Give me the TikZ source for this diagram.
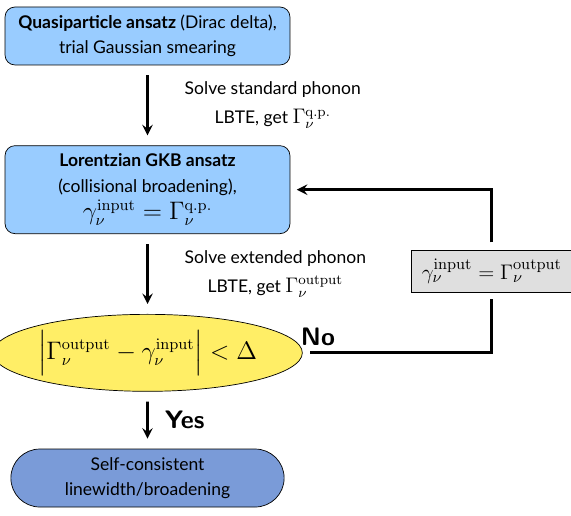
\documentclass[tikz,border=0pt,12pt]{standalone}
\usepackage{amsmath}
\usepackage[no-math]{fontspec}
\setmainfont{Lato}[Scale=0.83]
\usetikzlibrary{positioning, calc, shapes.geometric, shapes.misc, arrows}
\definecolor{ansatzblue}{RGB}{153,204,255}
\definecolor{testyellow}{RGB}{255,238,102}
\definecolor{resultblue}{RGB}{122,155,216}
\newcommand{\bigmath}{\fontsize{13.5}{16}\selectfont}
\tikzset{>=stealth, node distance=1.6cm,
    ansatz/.style={draw, rounded corners=0.2cm, fill=ansatzblue, minimum width=5.7cm, align=center},
    test/.style={draw, ellipse, fill=testyellow, minimum width=5.7cm, minimum height=1.54cm, inner sep=0pt},
    result/.style={draw, rounded rectangle, fill=resultblue, minimum width=5.7cm, minimum height=1.16cm, align=center},
    update/.style={draw, fill=gray!25, minimum width=3.2cm, minimum height=0.84cm, inner sep=2pt, font=\fontsize{12.5}{15}\selectfont},
    flow/.style={->, line width=1.6pt, shorten >=0.2cm, shorten <=0.2cm},
    loopback/.style={line width=1.6pt, shorten >=0.13cm, shorten <=0.15cm},
    answer/.style={font=\large\sffamily\bfseries},
}

\begin{document}
\begin{tikzpicture}[x=0.02cm, y=-0.02cm]
        \useasboundingbox (0,0) rectangle (571,516);
        \node[ansatz, minimum height=1.16cm] (qp) at (147.5,36) {\textbf{Quasiparticle ansatz} (Dirac delta),\\ trial Gaussian smearing};
        \node[ansatz, minimum height=1.76cm, below=of qp] (gkb) {\textbf{Lorentzian GKB ansatz}\\ (collisional broadening),\\[1pt] \bigmath $\gamma_\nu^{\mathrm{input}}=\Gamma_\nu^{\mathrm{q.p.}}$};
        \node[test, below=of gkb] (conv) {\bigmath $\Bigl|\Gamma_\nu^{\mathrm{output}}-\gamma_\nu^{\mathrm{input}}\Bigr|<\Delta$};
        \node[result, below=1.14cm of conv] (lw) {Self-consistent\\ linewidth/broadening};
        \node[update, right=2.3cm] (upd) at ($(gkb.east)!0.5!(conv.east)$) {$\gamma_\nu^{\mathrm{input}}=\Gamma_\nu^{\mathrm{output}}$};

        \draw[flow] (qp) -- node[right=0.6cm, align=center] {Solve standard phonon\\[2pt] LBTE, get $\Gamma_\nu^{\mathrm{q.p.}}$} (gkb);
        \draw[flow] (gkb) -- node[right=0.6cm, align=center] {Solve extended phonon\\[2pt] LBTE, get $\Gamma_\nu^{\mathrm{output}}$} (conv);
        \draw[flow] (conv) -- node[answer, right=0.2cm] {Yes} (lw);
        \draw[loopback] (conv.east) -| node[answer, pos=0, anchor=south west, xshift=-0.18cm] {No} (upd.south);
        \draw[loopback, ->] (upd.north) |- (gkb.east);
\end{tikzpicture}
\end{document}
